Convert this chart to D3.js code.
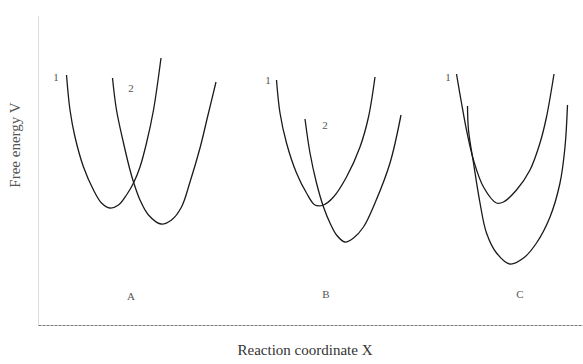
<!DOCTYPE html>
<html>
<head>
<meta charset="utf-8">
<script src="https://cdn.jsdelivr.net/npm/d3@7"></script>
<style>
  body { margin: 0; background: #fff; }
  text { font-family: "Liberation Serif", "DejaVu Serif", serif; }
</style>
</head>
<body>
<script>
// free energy curves: [reaction coordinate, V]
var curveA1 = [[5.7,50.0],[6.4,43.0],[7.4,37.6],[9.1,31.6],[11.1,27.0],[12.7,24.4],[14.4,23.4],
  [16.1,24.0],[17.7,26.0],[19.1,28.4],[20.4,31.6],[21.7,36.4],[23.1,43.0],[24.6,53.4]];
var curveA2 = [[14.9,49.4],[15.7,43.0],[17.1,36.4],[18.4,31.0],[19.1,28.6],[20.4,25.0],[22.1,22.0],
  [24.6,20.2],[26.7,21.0],[28.7,23.6],[30.4,28.6],[32.4,35.4],[34.0,42.0],[35.6,48.6]];
var curveB1 = [[47.7,49.0],[48.4,42.4],[49.7,36.4],[51.7,30.4],[53.7,26.4],[55.4,24.0],[57.1,24.0],
  [59.1,25.6],[61.7,29.6],[64.4,35.6],[66.1,41.6],[67.4,49.6]];
var curveB2 = [[53.4,41.2],[54.4,34.4],[55.7,28.4],[57.1,23.6],[58.4,20.4],[59.7,18.0],[61.4,16.6],
  [63.1,17.4],[65.1,19.6],[67.4,24.4],[70.4,32.4],[72.6,42.0]];
var curveC1 = [[83.7,50.2],[84.7,44.4],[85.7,39.0],[87.1,33.0],[89.1,27.6],[91.7,24.4],[93.1,24.6],
  [95.7,27.0],[98.4,31.0],[100.4,36.4],[101.7,41.6],[103.2,50.2]];
var curveC2 = [[85.9,43.8],[86.1,39.0],[87.1,32.4],[88.4,24.4],[89.7,18.4],[91.7,14.4],[94.4,12.2],
  [97.1,13.4],[99.7,16.4],[102.4,21.6],[104.4,28.4],[105.4,35.6],[105.9,44.0]];

// curve numbers and panel letters
var curveLabels = [["1",3.6,49.4],["2",18.6,47.2],["1",46.0,48.8],["2",57.4,39.8],["1",82.0,49.4]];
var panelLabels = [["A",18.6,5.6],["B",57.6,6.0],["C",96.4,6.0]];

var allCurves = [curveA1, curveA2, curveB1, curveB2, curveC1, curveC2];

var width = 583, height = 364;

var svg = d3.select("body").append("svg")
            .attr("width", width)
            .attr("height", height);

var x = d3.scaleLinear().domain([0, 109]).range([38, 583]);
var y = d3.scaleLinear().domain([0, 62]).range([325, 15]);

// axes: bare lines, no ticks
svg.append("g")
   .attr("transform", "translate(" + x(0) + ",0)")
   .call(d3.axisLeft(y).tickValues([]).tickSizeOuter(0))
   .select(".domain")
   .attr("stroke", "#bbb")
   .attr("stroke-dasharray", "1,1");

svg.append("g")
   .attr("transform", "translate(0," + y(0) + ")")
   .call(d3.axisBottom(x).tickValues([]).tickSizeOuter(0))
   .select(".domain")
   .attr("stroke", "#777")
   .attr("stroke-dasharray", "3,1");

var line = d3.line()
             .x(function(d) { return x(d[0]); })
             .y(function(d) { return y(d[1]); })
             .curve(d3.curveCatmullRom);

svg.selectAll(".curve")
   .data(allCurves)
   .enter().append("path")
   .attr("class", "curve")
   .attr("d", line)
   .attr("fill", "none")
   .attr("stroke", "#1a1a1a")
   .attr("stroke-width", 1.3);

svg.selectAll(".clab")
   .data(curveLabels)
   .enter().append("text")
   .attr("x", function(d) { return x(d[1]); })
   .attr("y", function(d) { return y(d[2]); })
   .attr("text-anchor", "middle")
   .attr("dominant-baseline", "middle")
   .attr("font-size", 11)
   .attr("fill", "#555")
   .text(function(d) { return d[0]; });

svg.selectAll(".plab")
   .data(panelLabels)
   .enter().append("text")
   .attr("x", function(d) { return x(d[1]); })
   .attr("y", function(d) { return y(d[2]); })
   .attr("text-anchor", "middle")
   .attr("dominant-baseline", "middle")
   .attr("font-size", 11)
   .attr("fill", "#555")
   .text(function(d) { return d[0]; });

// axis titles
svg.append("text")
   .attr("transform", "translate(17,145) rotate(-90)")
   .attr("text-anchor", "middle")
   .attr("dominant-baseline", "middle")
   .attr("font-size", 15)
   .attr("fill", "#555")
   .text("Free energy V");

svg.append("text")
   .attr("x", 305)
   .attr("y", 352)
   .attr("text-anchor", "middle")
   .attr("dominant-baseline", "middle")
   .attr("font-size", 15)
   .attr("fill", "#333")
   .text("Reaction coordinate X");
</script>
</body>
</html>
